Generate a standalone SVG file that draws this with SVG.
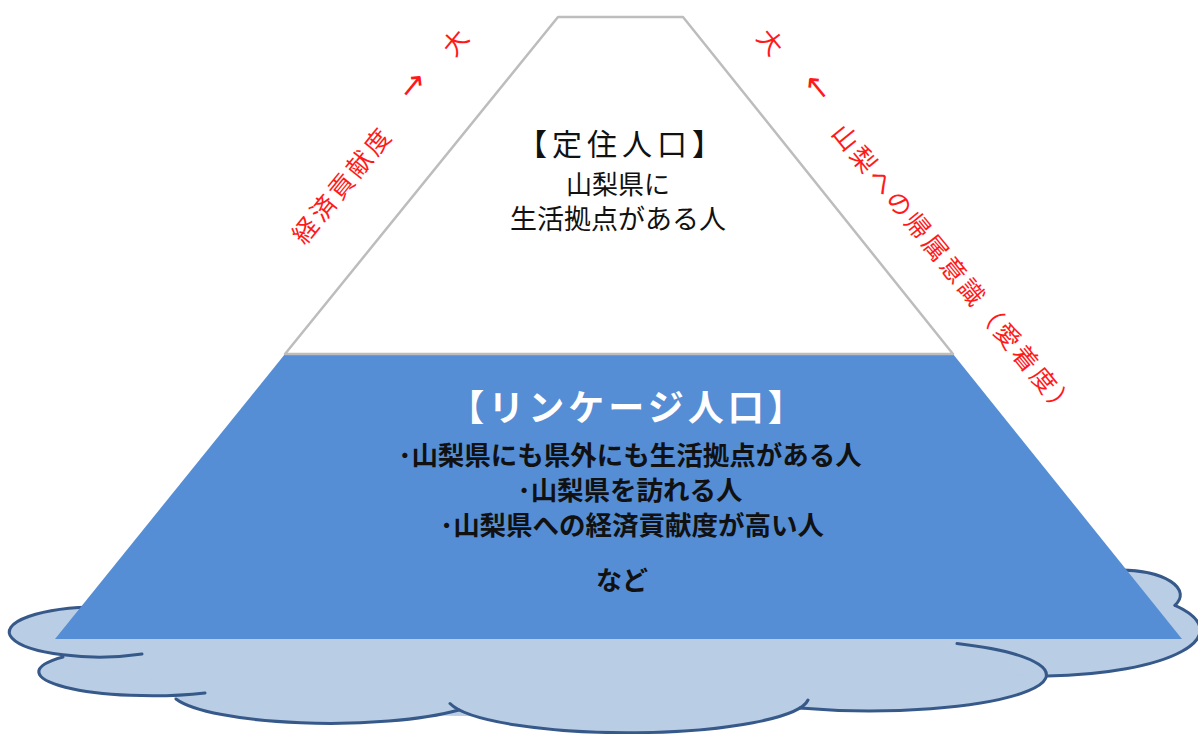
<svg xmlns="http://www.w3.org/2000/svg" width="1198" height="734" viewBox="0 0 1198 734">
<style>
.cf{fill:#b9cde5;stroke:none}
.cs{fill:none;stroke:#36598a;stroke-width:3;stroke-linecap:round}
.jp{font-family:"Noto Sans CJK JP","Noto Sans CJK SC",sans-serif}
.blk{fill:#111111;text-anchor:middle}
.red{fill:#ff1a1a;font-size:25px;letter-spacing:3.5px;text-anchor:middle;dominant-baseline:central}
.arr{fill:#ff1a1a;font-family:"DejaVu Sans",sans-serif;font-size:32px;text-anchor:middle;dominant-baseline:central}
</style>
<rect x="0" y="0" width="1198" height="734" fill="#ffffff"/>
<g id="cloud">
  <g class="cf">
    <ellipse cx="100" cy="632" rx="90" ry="25"/>
    <ellipse cx="150" cy="672" rx="113" ry="24"/>
    <ellipse cx="330" cy="690" rx="160" ry="33"/>
    <ellipse cx="628" cy="697" rx="181" ry="36"/>
    <ellipse cx="870" cy="675" rx="177" ry="36"/>
    <ellipse cx="1040" cy="630" rx="160" ry="46"/>
    <ellipse cx="1120" cy="595" rx="60" ry="25"/>
    <polygon points="70,620 1170,620 1150,660 1040,670 900,700 700,720 400,715 200,695 90,660"/>
  </g>
  <g class="cs">
    <path d="M142,654 A90,25 0 1 1 100,607"/>
    <path d="M63,657 A113,24 0 0 0 205,693"/>
    <path d="M176,699 A160,33 0 0 0 459,710"/>
    <path d="M450,703.5 A181,36 0 0 0 808,700"/>
    <path d="M800,708 A177,36 0 0 0 957,643.6"/>
    <path d="M1047,676 A160,46 0 0 0 1175,605.3"/>
    <path d="M1175,605.3 A60,25 0 0 0 1120,570"/>
  </g>
</g>
<g id="linkage-population">
  <polygon points="285,354 953,354 1182,639 55,639" fill="#558ed5"/>
  <text class="jp" x="628" y="421" fill="#ffffff" font-size="36" font-weight="bold" letter-spacing="4" text-anchor="middle">【リンケージ人口】</text>
  <g class="jp blk" font-size="26.5" font-weight="bold">
    <text x="630" y="465">･山梨県にも県外にも生活拠点がある人</text>
    <text x="630" y="500">･山梨県を訪れる人</text>
    <text x="632" y="535">･山梨県への経済貢献度が高い人</text>
    <text x="622" y="590" font-size="26">など</text>
  </g>
</g>
<g id="settled-population">
  <polygon points="558,17 683,17 953,354 285,354" fill="#ffffff" stroke="#bdbdbd" stroke-width="2.5" stroke-linejoin="round"/>
  <g class="jp blk">
    <text x="622" y="155" font-size="30" letter-spacing="5">【定住人口】</text>
    <text x="618" y="194" font-size="26">山梨県に</text>
    <text x="618" y="229" font-size="27">生活拠点がある人</text>
  </g>
</g>
<g id="axis-labels">
  <text class="jp red" transform="translate(341,183.5) rotate(-50.9)">経済貢献度</text>
  <text class="arr" transform="translate(412,85) rotate(-50.9)">→</text>
  <text class="jp red" transform="translate(455,40) rotate(-50.9)">大</text>
  <text class="jp red" transform="translate(773,42) rotate(50.8)">大</text>
  <text class="arr" transform="translate(818,87) rotate(50.8)">←</text>
  <text class="jp red" transform="translate(956,270) rotate(50.8)">山梨への帰属意識（愛着度）</text>
</g>
<g id="connectors"/>
</svg>
